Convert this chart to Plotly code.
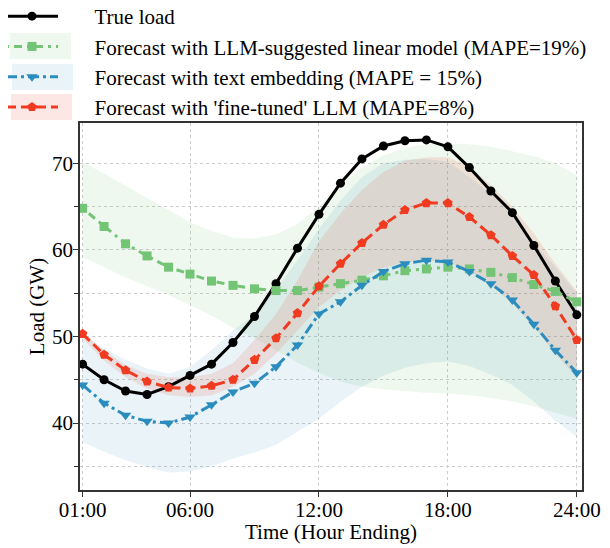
import plotly.graph_objects as go

# hourly data, hour ending 1..24
hours = list(range(1, 25))
tick_hours = [1, 6, 12, 18, 24]
tick_labels = ["01:00", "06:00", "12:00", "18:00", "24:00"]

true_load = [46.8, 45.0, 43.7, 43.3, 44.2, 45.5, 46.8, 49.3, 52.3, 56.1, 60.2, 64.1,
             67.7, 70.5, 72.0, 72.6, 72.7, 71.9, 69.5, 66.8, 64.3, 60.5, 56.4, 52.5]

linear_fc = [64.8, 62.7, 60.7, 59.3, 58.0, 57.2, 56.4, 55.9, 55.5, 55.3, 55.3, 55.7,
             56.1, 56.5, 57.0, 57.6, 57.8, 58.0, 57.8, 57.4, 56.8, 56.0, 55.2, 54.0]
linear_hi = [70.2, 68.8, 67.4, 66.0, 64.6, 63.2, 62.2, 61.4, 61.3, 61.8, 63.0, 65.0,
             67.5, 69.5, 70.9, 71.8, 72.2, 72.3, 72.2, 71.9, 71.4, 70.8, 70.0, 68.6]
linear_lo = [59.2, 58.0, 56.8, 55.8, 54.8, 53.6, 52.4, 51.0, 49.8, 48.4, 47.0, 45.8,
             44.8, 44.2, 43.9, 43.7, 43.5, 43.4, 43.2, 42.9, 42.5, 41.9, 41.2, 40.5]

embed_fc = [44.4, 42.3, 40.9, 40.2, 40.0, 40.7, 42.1, 43.6, 44.6, 46.5, 49.0, 52.6,
            54.0, 55.9, 57.5, 58.4, 58.8, 58.6, 57.5, 56.1, 54.2, 51.4, 48.4, 45.8]
embed_hi = [50.1, 48.6, 47.3, 46.3, 45.7, 46.5, 48.4, 50.7, 52.5, 55.5, 58.8, 62.4,
            65.7, 68.4, 70.0, 70.4, 70.5, 70.2, 68.4, 66.5, 64.2, 60.9, 58.0, 55.0]
embed_lo = [37.8, 36.7, 35.7, 34.9, 34.3, 34.4, 35.0, 35.9, 36.6, 37.5, 39.0, 40.5,
            42.5, 44.2, 45.5, 46.4, 46.9, 47.1, 46.6, 45.6, 44.4, 42.5, 40.3, 38.4]

tuned_fc = [50.3, 47.9, 46.1, 44.8, 44.1, 44.0, 44.3, 45.0, 47.3, 49.8, 52.7, 55.8,
            58.4, 60.8, 62.9, 64.6, 65.4, 65.4, 63.8, 61.7, 59.3, 57.1, 53.5, 49.6]
tuned_hi = [50.5, 48.4, 46.7, 45.7, 45.3, 45.3, 45.7, 46.9, 49.6, 52.6, 56.5, 61.0,
            64.2, 66.9, 69.0, 70.3, 70.7, 70.7, 69.6, 67.5, 65.0, 61.9, 58.4, 55.2]
tuned_lo = [49.8, 47.2, 45.3, 44.0, 43.2, 43.0, 43.2, 44.2, 45.7, 48.0, 50.7, 53.4,
            55.3, 56.9, 57.9, 58.6, 58.8, 58.6, 57.5, 55.9, 53.8, 51.1, 48.0, 45.3]

FONT = "Liberation Serif"
GREEN, BLUE, RED = "#74c476", "#2b8cbe", "#f03b20"
FILLS = {
    GREEN: "rgba(116,196,118,0.12)",
    BLUE: "rgba(43,140,190,0.10)",
    RED: "rgba(240,59,32,0.12)",
}
PAD = "\u2003\u2002"  # widen gap between legend handle and label

fig = go.Figure()

# uncertainty bands first so the lines sit on top
for lo, hi, col in [(linear_lo, linear_hi, GREEN), (embed_lo, embed_hi, BLUE),
                    (tuned_lo, tuned_hi, RED)]:
    fig.add_trace(go.Scatter(x=hours, y=lo, mode="lines", line={"width": 0},
                             showlegend=False, hoverinfo="skip"))
    fig.add_trace(go.Scatter(x=hours, y=hi, mode="lines", line={"width": 0},
                             fill="tonexty", fillcolor=FILLS[col],
                             showlegend=False, hoverinfo="skip"))

series = [
    ("True load", true_load, "black", "solid", "circle", 9),
    ("Forecast with LLM-suggested linear model (MAPE=19%)", linear_fc, GREEN,
     "3px,5px,8px,5px", "square", 9),
    ("Forecast with text embedding (MAPE = 15%)", embed_fc, BLUE,
     "11px,4px,3px,4px", "triangle-down", 10),
    ("Forecast with 'fine-tuned' LLM (MAPE=8%)", tuned_fc, RED,
     "10px,5px", "pentagon", 10),
]
for name, vals, col, dash, sym, size in series:
    fig.add_trace(go.Scatter(
        x=hours, y=vals, name=PAD + name, mode="lines+markers",
        line={"color": col, "width": 3, "dash": dash},
        marker={"color": col, "symbol": sym, "size": size},
    ))

# the page body adds an 8px offset, so target pixels are shifted back by it
OFF = 8
PL, PR, PT, PB = 80 - OFF, 582 - OFF, 123 - OFF, 490 - OFF
FIG_W, FIG_H = 610 - OFF, 548 - OFF
W, H = PR - PL, PB - PT


def px_box(x0, y0, x1, y1):
    x0, x1, y0, y1 = x0 - OFF, x1 - OFF, y0 - OFF, y1 - OFF
    return {"x0": (x0 - PL) / W, "x1": (x1 - PL) / W,
            "y0": (PB - y1) / H, "y1": (PB - y0) / H}


# tinted boxes behind the legend handles
for box, col in [((10, 33, 71, 59), GREEN), ((12, 64, 73, 90), BLUE),
                 ((11, 94, 72, 120), RED)]:
    fig.add_shape(type="rect", xref="paper", yref="paper", layer="above",
                  line={"width": 0}, fillcolor=FILLS[col], **px_box(*box))

# x-axis title placed directly under the tick labels
fig.add_annotation(text="Time (Hour Ending)", xref="paper", yref="paper",
                   x=0.5, y=(PB - (532 - OFF)) / H, showarrow=False,
                   xanchor="center", yanchor="middle",
                   font={"family": FONT, "size": 21, "color": "black"})

axis_common = {
    "showline": True, "linecolor": "#333333", "linewidth": 1.5, "mirror": True,
    "ticks": "outside", "ticklen": 5, "tickcolor": "#333333",
    "gridcolor": "#cccccc", "griddash": "dot", "gridwidth": 1,
    "zeroline": False,
    "tickfont": {"family": FONT, "size": 21, "color": "black"},
}

fig.update_layout(
    width=FIG_W, height=FIG_H,
    margin={"l": PL, "r": FIG_W - PR, "t": PT, "b": FIG_H - PB, "pad": 0,
            "autoexpand": False},
    plot_bgcolor="white", paper_bgcolor="white",
    font={"family": FONT, "size": 21, "color": "black"},
    xaxis={**axis_common, "range": [0.88, 24.24], "tickvals": tick_hours,
           "ticktext": tick_labels, "ticklabelstandoff": -5},
    yaxis={**axis_common, "range": [32.27, 74.65], "tick0": 40, "dtick": 10,
           "ticklabelstandoff": -4,
           "minor": {"dtick": 5, "tick0": 35, "ticks": "outside", "ticklen": 4,
                     "tickcolor": "#333333", "showgrid": True,
                     "gridcolor": "#cccccc", "griddash": "dot"},
           "title": {"text": "Load (GW)", "standoff": 2,
                     "font": {"family": FONT, "size": 21}}},
    showlegend=True,
    legend={"x": (-OFF - PL + 1) / W, "y": (PB + 12) / H,
            "xanchor": "left", "yanchor": "top", "itemwidth": 52,
            "traceorder": "normal",
            "bgcolor": "rgba(0,0,0,0)", "tracegroupgap": 0,
            "font": {"family": FONT, "size": 21, "color": "black"}},
)

fig.write_html("out.html")
